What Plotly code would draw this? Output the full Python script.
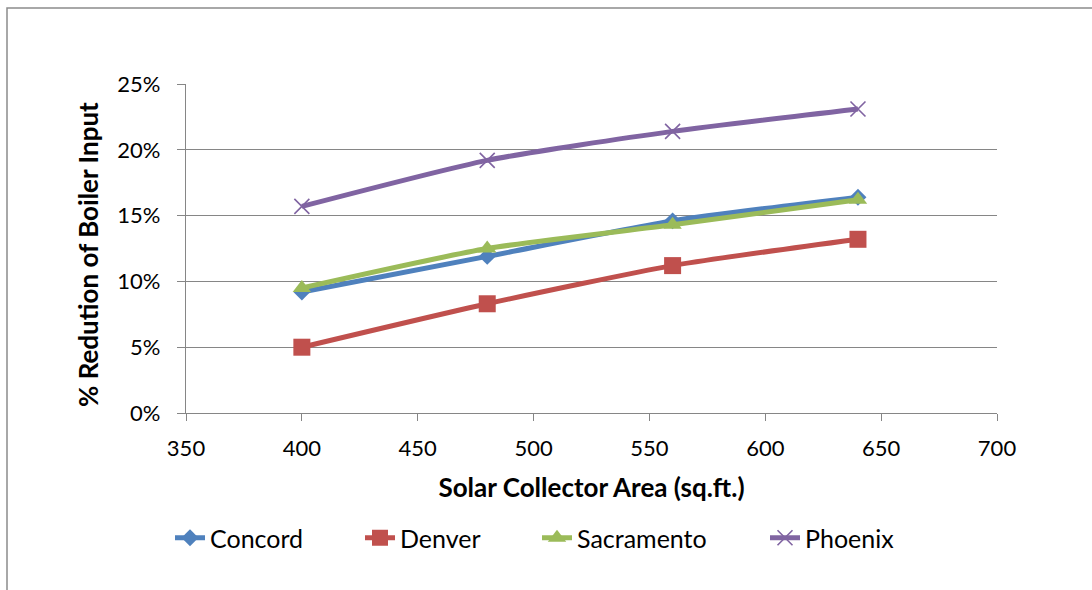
import plotly.graph_objects as go

# Collector area (sq.ft.) and fractional reduction of boiler input per city
area = [400, 480, 560, 640]
concord = [0.092, 0.119, 0.146, 0.164]
denver = [0.050, 0.083, 0.112, 0.132]
sacramento = [0.095, 0.125, 0.143, 0.162]
phoenix = [0.157, 0.192, 0.214, 0.231]

y_ticks = [0, 0.05, 0.10, 0.15, 0.20, 0.25]
x_ticks = [350, 400, 450, 500, 550, 600, 650, 700]

FONT = "Lato"
GRID = "#868686"

# name, values, colour, marker, legend id, legend left edge (px)
series = [
    ("Concord", concord, "#4F81BD", dict(symbol="diamond", size=13), "legend", 155),
    ("Denver", denver, "#C0504D", dict(symbol="square", size=17), "legend2", 345),
    ("Sacramento", sacramento, "#9BBB59", dict(symbol="triangle-up", size=16), "legend3", 522),
    ("Phoenix", phoenix, "#8064A2", dict(symbol="x-thin", size=15,
                                          line=dict(width=1.6, color="#8064A2")), "legend4", 750),
]

PLOT_L, PLOT_W, PLOT_T, PLOT_H = 186, 811, 84, 329

fig = go.Figure()
legends = {}
for name, vals, color, marker, leg, left in series:
    marker = dict(marker, color=color)
    fig.add_trace(go.Scatter(
        x=area, y=vals, name=name, mode="lines+markers",
        line=dict(color=color, width=5, shape="spline", smoothing=0.6),
        marker=marker, legend=leg,
    ))
    legends[leg] = dict(orientation="h", x=(left + 15 - PLOT_L) / PLOT_W, xanchor="left",
                        y=(PLOT_T + PLOT_H - 538) / PLOT_H, yanchor="middle",
                        font=dict(family=FONT, size=25), bgcolor="rgba(0,0,0,0)")

fig.update_layout(
    width=1092, height=590,
    margin=dict(l=PLOT_L, r=1092 - PLOT_L - PLOT_W, t=PLOT_T, b=590 - PLOT_T - PLOT_H),
    paper_bgcolor="white", plot_bgcolor="white",
    font=dict(family=FONT, size=22, color="#000000"),
    showlegend=True,
    **legends,
    xaxis=dict(
        range=[350, 700], tickvals=x_ticks, ticktext=[str(v) for v in x_ticks],
        showgrid=False, zeroline=False,
        showline=True, linecolor=GRID, linewidth=1.2,
        ticks="outside", ticklen=7, tickcolor=GRID, tickwidth=1.2,
        ticklabelstandoff=8,
        title=dict(text="<b>Solar Collector Area (sq.ft.)</b>", standoff=19,
                   font=dict(family=FONT, size=26)),
    ),
    yaxis=dict(
        range=[0, 0.25], tickvals=y_ticks, tickformat=".0%",
        showgrid=True, gridcolor=GRID, gridwidth=1.2, zeroline=False,
        showline=True, linecolor=GRID, linewidth=1.2,
        ticks="outside", ticklen=8, tickcolor=GRID, tickwidth=1.2,
        ticklabelstandoff=12,
    ),
    annotations=[dict(text="<b>% Redution of Boiler Input</b>", textangle=-90,
                      xref="paper", yref="paper",
                      x=(88 - PLOT_L) / PLOT_W, xanchor="center",
                      y=(PLOT_T + PLOT_H - 255) / PLOT_H, yanchor="middle",
                      showarrow=False, font=dict(family=FONT, size=26))],
    shapes=[dict(type="rect", xref="paper", yref="paper",
                 x0=(7 - PLOT_L) / PLOT_W, x1=1.3, y0=-0.7,
                 y1=(PLOT_T + PLOT_H - 8) / PLOT_H,
                 line=dict(color="#8c8c8c", width=1.5), layer="below")],
)

fig.write_html("out.html")
